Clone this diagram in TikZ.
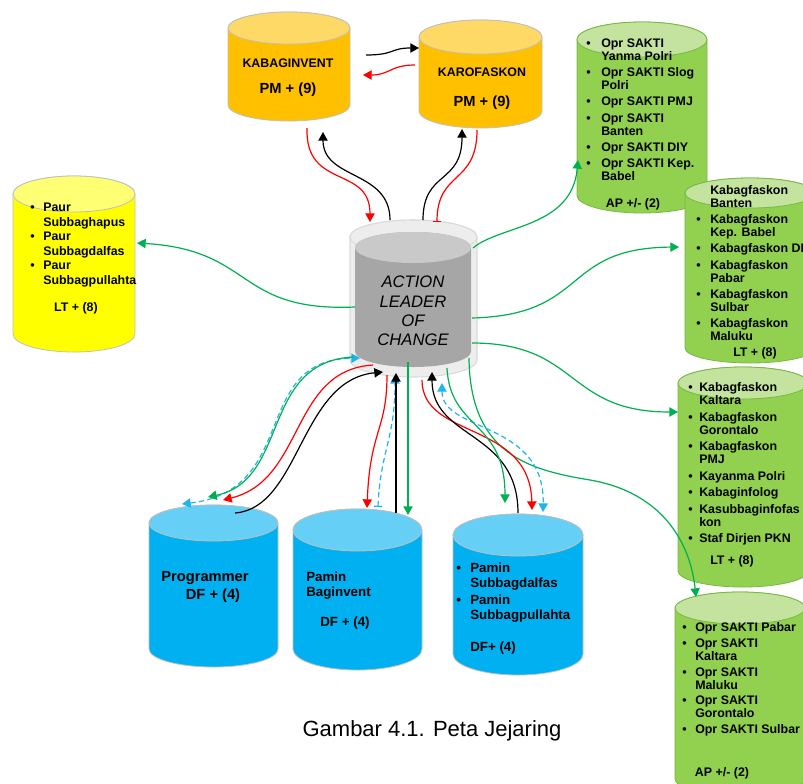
\documentclass[tikz,border=0pt]{standalone}
\usepackage{fontspec}
\setmainfont{Liberation Sans}
\usetikzlibrary{arrows.meta}

\definecolor{orgbody}{HTML}{FFC000}
\definecolor{orgtop}{HTML}{FFD966}
\definecolor{ylwbody}{HTML}{FFFF00}
\definecolor{ylwtop}{HTML}{FFFF73}
\definecolor{grnbody}{HTML}{92D050}
\definecolor{grntop}{HTML}{C3E39E}
\definecolor{grnedge}{HTML}{78B843}
\definecolor{blubody}{HTML}{00B0F0}
\definecolor{blutop}{HTML}{66CFF5}
\definecolor{cylgray}{HTML}{BFBFBF}
\definecolor{leadout}{HTML}{EDEDED}
\definecolor{leadedge}{HTML}{DADADA}
\definecolor{leadbody}{HTML}{A6A6A6}
\definecolor{leadtop}{HTML}{C9C9C9}
\definecolor{arrgreen}{HTML}{00B050}
\definecolor{arrblue}{HTML}{1EB4F0}

% name, cx, cy, width, height, end radius, body style, top style
\newcommand{\drawcyl}[8]{%
  \node[cylbox, minimum width=#4*0.75pt, minimum height=#5*0.75pt] (#1) at (#2,#3) {};
  \path[#7] ({#2-#4/2},{#3-#5/2+#6}) -- ({#2-#4/2},{#3+#5/2-#6})
    arc[start angle=180, end angle=0, x radius={#4/2}, y radius={#6}]
    -- ({#2+#4/2},{#3-#5/2+#6})
    arc[start angle=0, end angle=-180, x radius={#4/2}, y radius={#6}] -- cycle;
  \path[#8] (#2,{#3-#5/2+#6}) ellipse[x radius={#4/2}, y radius={#6}];
}

\tikzset{
  cylbox/.style={rectangle, inner sep=0pt, draw=none},
  orgb/.style={draw=cylgray, fill=orgbody, line width=0.6pt},
  orgt/.style={draw=cylgray, fill=orgtop, line width=0.6pt},
  ylwb/.style={draw=cylgray, fill=ylwbody, line width=0.6pt},
  ylwt/.style={draw=cylgray, fill=ylwtop, line width=0.6pt},
  grnb/.style={draw=grnedge, fill=grnbody, line width=0.6pt},
  grnt/.style={draw=grnedge, fill=grntop, line width=0.6pt},
  blub/.style={draw=cylgray, fill=blubody, line width=0.6pt},
  blut/.style={draw=cylgray, fill=blutop, line width=0.6pt},
  leadb/.style={draw=leadedge, fill=leadout, line width=0.8pt},
  inb/.style={fill=leadbody},
  int/.style={fill=leadtop},
  lst/.style={anchor=base west, inner sep=0pt, font=\bfseries\fontsize{9.3}{9.8}\selectfont},
  tag/.style={inner sep=0pt, font=\bfseries\fontsize{9.3}{11}\selectfont},
  big/.style={inner sep=0pt, font=\bfseries\fontsize{11}{13}\selectfont},
  mid/.style={inner sep=0pt, font=\bfseries\fontsize{10}{11.25}\selectfont},
  conn/.style={line width=0.9pt},
  redl/.style={conn, red},
  blkl/.style={conn, black},
  grnl/.style={conn, arrgreen},
  blul/.style={conn, arrblue, dash pattern=on 4pt off 2.5pt},
}

\begin{document}
\begin{tikzpicture}[x=0.75pt,y=-0.75pt,>={Triangle[length=6.5pt,width=7pt]}]
\useasboundingbox (0,0) rectangle (803,783);
\clip (0,0) rectangle (803,783);

% cylinders
\drawcyl{kabag}{289}{66.5}{122}{109}{16}{orgb}{orgt}
\drawcyl{karo}{480.5}{74}{123}{108}{17}{orgb}{orgt}
\drawcyl{paur}{74}{264}{122}{176}{18}{ylwb}{ylwt}
\drawcyl{oprA}{642}{117.5}{130}{191}{17.5}{grnb}{grnt}
\drawcyl{kabagA}{750}{270.5}{130}{185}{15}{grnb}{grnt}
\drawcyl{kabagB}{743}{477}{130}{220}{16}{grnb}{grnt}
\drawcyl{oprB}{740}{693.5}{130}{203}{16}{grnb}{grnt}
\drawcyl{prog}{213.5}{586}{129}{162}{18}{blub}{blut}
\drawcyl{pbag}{357.5}{589.5}{129}{161}{21}{blub}{blut}
\drawcyl{psub}{518}{594.5}{130}{161}{21}{blub}{blut}
\drawcyl{lead}{413.5}{298.5}{127}{157}{17}{leadb}{leadb}
\drawcyl{leadin}{413}{299.5}{116}{135}{15.5}{inb}{int}

% texts
\node[tag] (kabagT) at (288,63) {KABAGINVENT};
\node[big] (kabagN) at (288,90) {PM + (9)};
\node[tag] (karoT) at (482,72) {KAROFASKON};
\node[big] (karoN) at (482,103) {PM + (9)};
\node[align=center, inner sep=0pt, font=\itshape\fontsize{12.5}{14.6}\selectfont] (leadT) at (413,311) {ACTION\\LEADER\\OF\\CHANGE};

\node[lst, font=\bfseries\fontsize{9.3}{10.9}\selectfont] (paurT) at (30,211.5) {\begin{tabular}[t]{@{}p{9.75pt}@{}l@{}}
\textbullet & Paur\\ & Subbaghapus\\
\textbullet & Paur\\ & Subbagdalfas\\
\textbullet & Paur\\ & Subbagpullahta
\end{tabular}};
\node[tag] (paurN) at (76,308) {LT + (8)};

\node[lst] (oprAT) at (586,47.5) {\begin{tabular}[t]{@{}p{11.25pt}@{}l@{}}
\textbullet & Opr SAKTI\\ & Yanma Polri\\[2.3pt]
\textbullet & Opr SAKTI Slog\\ & Polri\\[2.3pt]
\textbullet & Opr SAKTI PMJ\\[2.3pt]
\textbullet & Opr SAKTI\\ & Banten\\[2.3pt]
\textbullet & Opr SAKTI DIY\\[2.3pt]
\textbullet & Opr SAKTI Kep.\\ & Babel
\end{tabular}};
\node[tag] (oprAN) at (633,204) {AP +/- (2)};

\node[lst] (kabagAT) at (696,194.5) {\begin{tabular}[t]{@{}p{10.5pt}@{}l@{}}
 & Kabagfaskon\\ & Banten\\[2.3pt]
\textbullet & Kabagfaskon\\ & Kep. Babel\\[2.3pt]
\textbullet & Kabagfaskon DIY\\[2.3pt]
\textbullet & Kabagfaskon\\ & Pabar\\[2.3pt]
\textbullet & Kabagfaskon\\ & Sulbar\\[2.3pt]
\textbullet & Kabagfaskon\\ & Maluku
\end{tabular}};
\node[tag] (kabagAN) at (755,353) {LT + (8)};

\node[lst] (kabagBT) at (688,391.5) {\begin{tabular}[t]{@{}p{8.25pt}@{}l@{}}
\textbullet & Kabagfaskon\\ & Kaltara\\[2.6pt]
\textbullet & Kabagfaskon\\ & Gorontalo\\[2.6pt]
\textbullet & Kabagfaskon\\ & PMJ\\[2.6pt]
\textbullet & Kayanma Polri\\[2.6pt]
\textbullet & Kabaginfolog\\[2.6pt]
\textbullet & Kasubbaginfofas\\ & kon\\[2.6pt]
\textbullet & Staf Dirjen PKN
\end{tabular}};
\node[tag] (kabagBN) at (732,561) {LT + (8)};

\node[lst] (oprBT) at (682,631.5) {\begin{tabular}[t]{@{}p{9.75pt}@{}l@{}}
\textbullet & Opr SAKTI Pabar\\[2pt]
\textbullet & Opr SAKTI\\ & Kaltara\\[2pt]
\textbullet & Opr SAKTI\\ & Maluku\\[2pt]
\textbullet & Opr SAKTI\\ & Gorontalo\\[2pt]
\textbullet & Opr SAKTI Sulbar
\end{tabular}};
\node[tag] (oprBN) at (722,773) {AP +/- (2)};

\node[big] (progT) at (205,578) {Programmer};
\node[big] (progN) at (213,596) {DF + (4)};
\node[lst, font=\bfseries\fontsize{10}{11.25}\selectfont] (pbagT) at (306,581.5) {\begin{tabular}[t]{@{}l@{}}
Pamin\\ Baginvent
\end{tabular}};
\node[mid] (pbagN) at (345,623) {DF + (4)};
\node[lst, font=\bfseries\fontsize{10}{11.25}\selectfont] (psubT) at (456,572) {\begin{tabular}[t]{@{}p{10.5pt}@{}l@{}}
\textbullet & Pamin\\ & Subbagdalfas\\[1.5pt]
\textbullet & Pamin\\ & Subbagpullahta
\end{tabular}};
\node[mid, anchor=base west] (psubN) at (470,651) {DF+ (4)};

\node[inner sep=0pt, font=\fontsize{16.5}{19}\selectfont] (caption) at (432,731) {Gambar 4.1. Peta Jejaring};

% top connectors
\draw[redl,->] ([shift={(18,61.5)}]kabag.center) .. controls +(-2,62) and +(0,-57) .. ([shift={(-43.5,-76.5)}]lead.center);
\draw[blkl,->] ([shift={(-23.5,-78.5)}]lead.center) .. controls +(0,-50) and +(0,48) .. ([shift={(34,65.5)}]kabag.center);
\draw[blkl,->] ([shift={(9.5,-78.5)}]lead.center) .. controls +(0,-50) and +(0,56) .. ([shift={(-18.5,55)}]karo.center);
\draw[redl,-{Bar[width=6pt]}] ([shift={(-3.5,56)}]karo.center) .. controls +(0,55) and +(0,-52) .. ([shift={(23.5,-76.5)}]lead.center);
\draw[blkl,->] ([shift={(77,-11.5)}]kabag.center) .. controls +(29,0) and +(-29,0) .. ([shift={(-61.5,-26)}]karo.center);
\draw[redl,->] ([shift={(-65.5,-9)}]karo.center) .. controls +(-25,0) and +(27,0) .. ([shift={(74,8.5)}]kabag.center);

% side connectors
\draw[grnl,->] ([shift={(-58.5,8.5)}]lead.center) .. controls +(-120,5) and +(118,7) .. ([shift={(63,-21)}]paur.center);
\draw[grnl,->] ([shift={(59.5,-50.5)}]lead.center) .. controls +(27,-23) and +(-6,68) .. ([shift={(-64,42.5)}]oprA.center);
\draw[grnl,->] ([shift={(58.5,19.5)}]lead.center) .. controls +(118,-3) and +(-119,1) .. ([shift={(-71,-23.5)}]kabagA.center);
\draw[grnl,->] ([shift={(58.5,44.5)}]lead.center) .. controls +(108,0) and +(-113,0) .. ([shift={(-65,-65)}]kabagB.center);
\draw[grnl,->] ([shift={(55.5,59.5)}]lead.center) .. controls +(1,97) and +(-60,-10) .. (590,480) .. controls +(70,12) and +(-6,-57) .. ([shift={(-44,-96.5)}]oprB.center);

% bottom connectors
\draw[blul,<->] ([shift={(-31.5,-82)}]prog.center) .. controls +(118,-14) and +(-110,2) .. ([shift={(-53.5,59.5)}]lead.center);
\draw[grnl,->] ([shift={(-60.5,58.5)}]lead.center) .. controls +(-93,5) and +(82,-17) .. ([shift={(-5.5,-89)}]prog.center);
\draw[redl,->] ([shift={(-40.5,66.5)}]lead.center) .. controls +(-83,5) and +(82,-20) .. ([shift={(9.5,-86)}]prog.center);
\draw[blkl,->] ([shift={(21.5,-73)}]prog.center) .. controls +(65,-5) and +(-83,8) .. ([shift={(-30.5,73.5)}]lead.center);

\draw[redl,->] ([shift={(-26.5,76.5)}]lead.center) .. controls +(0,55) and +(3,-78) .. ([shift={(9.5,-81.5)}]pbag.center);
\draw[blul,{Bar[width=6pt]}->] ([shift={(20.5,-82.5)}]pbag.center) .. controls +(2,-55) and +(0,65) .. ([shift={(-18.5,76.5)}]lead.center);
\draw[blkl,->] ([shift={(38.5,-76.5)}]pbag.center) -- ([shift={(-17.5,74.5)}]lead.center);
\draw[grnl,->] ([shift={(-5.5,63.5)}]lead.center) -- ([shift={(50.5,-74.5)}]pbag.center);

\draw[redl,->] ([shift={(8.5,81.5)}]lead.center) .. controls +(0,60) and +(-2,-90) .. ([shift={(14,-84.5)}]psub.center);
\draw[blkl,->] ([shift={(0,-81.5)}]psub.center) .. controls +(0,-83) and +(0,68) .. ([shift={(18.5,73.5)}]lead.center);
\draw[blul,<->] ([shift={(28.5,84.5)}]lead.center) .. controls +(0,50) and +(2,-92) .. ([shift={(25,-82.5)}]psub.center);
\draw[grnl,->] ([shift={(33.5,69.5)}]lead.center) .. controls +(3,62) and +(0,-83) .. ([shift={(-13,-91.5)}]psub.center);
\end{tikzpicture}
\end{document}
